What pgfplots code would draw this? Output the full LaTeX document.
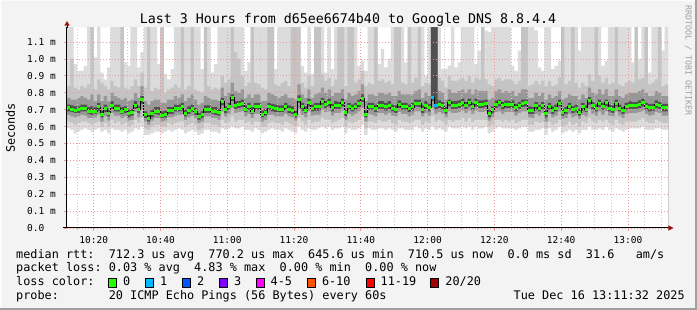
\documentclass[border=0pt]{standalone}
\usepackage{fontspec}
\setmainfont{DejaVu Sans Mono}
\usepackage{pgfplots}
\usepackage{pgfplotstable}
\pgfplotsset{compat=1.18}
\frenchspacing
\definecolor{canvasbg}{HTML}{F3F3F3}
\definecolor{framedark}{HTML}{A0A0A0}
\definecolor{Lone}{HTML}{DCDCDC}
\definecolor{Ltwo}{HTML}{C4C4C4}
\definecolor{Lthree}{HTML}{989898}
\definecolor{Lfour}{HTML}{505050}
\definecolor{lzero}{HTML}{26FF00}
\definecolor{lone}{HTML}{00B8FF}
\definecolor{ltwo}{HTML}{0059FF}
\definecolor{lthree}{HTML}{7E00FF}
\definecolor{lfour}{HTML}{FF00FF}
\definecolor{lsix}{HTML}{FF5500}
\definecolor{leleven}{HTML}{FF0000}
\definecolor{ltwenty}{HTML}{A10000}
\definecolor{mgrid}{HTML}{F09A9A}
\definecolor{ngrid}{HTML}{C8C8C8}
\definecolor{arrowred}{HTML}{9E1010}

\pgfplotstableread{
t m lo l2 l3 l4 h4 h3 h2 h1
0 71.2 59 63 67 69 73 77 84 119
1 70.4 58 62 66 68.5 72.5 76 100 119
2 69.8 56 61 65.5 68 72 76 83 97
3 70.0 57 62 66 68 72 77 82 93
4 70.8 58 63 67 69 73 78 84 93
5 70.8 59 63 66.5 69 73 77 83 96
6 69.2 58 62 65 67.5 71.5 76 85 119
7 69.2 57 61 65 67 72 79 119 119
8 69.2 58 62 65.5 67.5 71.5 75 82 101
9 71.6 59 63 67 69.5 74 79 88 119
10 67.2 57 60 63 65.5 69.5 75 86 92
11 70.6 58 62 66 68.5 73 78 84 88
12 67.8 56 60 63.5 66 70 75 82 95
13 72.7 59 64 68 70.5 75 80 87 119
14 70.8 58 62 66.5 69 73 78 84 119
15 70.8 58 63 66.5 69 73 77 83 119
16 69.2 57 61 65 67.5 71.5 76 119 119
17 70.0 58 62 66 68 72 77 83 98
18 67.6 56 60 63.5 65.5 70 75 82 96
19 68.2 57 61 64 66.5 70.5 76 84 119
20 72.7 59 64 68.5 70.5 75 80 88 119
21 70.0 58 62 65.5 68 72 77 84 95
22 75.9 60 65 70 73.5 78 84 92 104
23 66.9 55 59 63 65 69 75 83 119
24 64.7 55 58 61 63 67 73 119 119
25 67.6 56 60 63.5 65.5 70 75 81 119
26 69.2 57 61 65 67.5 71.5 76 83 119
27 69.2 57 61 65 67 71.5 76 82 97
28 66.7 56 60 63 65 69 74 119 119
29 67.2 57 60 63.5 65.5 69.5 74 80 91
30 69.4 58 62 65.5 67.5 71.5 76 82 88
31 69.4 57 61 65.5 67.5 71.5 76 83 94
32 70.8 58 62 66.5 69 73 78 85 119
33 70.8 59 63 67 69 73 77 83 119
34 71.6 58 63 67 69.5 74 79 119 119
35 67.8 56 60 64 66 70 75 82 119
36 69.6 57 61 65.5 67.5 72 77 84 119
37 70.8 58 62 66.5 69 73 79 119 119
38 69.0 57 61 65 67 71 76 82 119
39 65.7 55 58 62 64 68 73 81 119
40 66.9 56 59 63 65 69 74 80 94
41 70.2 58 62 66 68 72.5 78 119 119
42 70.2 58 62 66 68 72.5 77 84 119
43 69.2 57 61 65 67.5 71.5 76 82 92
44 69.2 57 61 65 67 71.5 76 83 97
45 68.2 56 60 64 66.5 70.5 75 82 119
46 74.7 59 64 69 72.5 77 83 90 119
47 70.0 58 62 66 68 72 78 86 119
48 71.8 59 63 67.5 70 74 80 88 119
49 77.0 60 66 71 75 79 86 119 119
50 72.5 59 63 68 70.5 75 81 104 119
51 72.9 59 64 68.5 71 75 80 100 119
52 73.7 60 64 69 71.5 76 82 90 119
53 70.4 58 62 66 68.5 72.5 77 84 93
54 71.8 58 63 67.5 70 74 79 86 98
55 69.2 57 61 65 67.5 71.5 77 119 119
56 72.0 59 63 67.5 70 74 79 86 119
57 72.0 58 63 67.5 70 74 79 85 119
58 67.2 56 60 63 65.5 69.5 75 83 119
59 68.2 57 60 64 66.5 70.5 75 82 119
60 71.8 58 62 67 70 74 80 119 119
61 71.2 59 63 67 69 73.5 79 119 119
62 70.6 58 62 66 68.5 73 78 85 94
63 70.4 58 62 66 68.5 72.5 77 84 119
64 70.4 57 61 66 68.5 72.5 78 86 119
65 72.0 59 63 67.5 70 74 79 87 119
66 70.2 58 62 66 68 72.5 77 84 119
67 69.6 57 61 65.5 67.5 72 77 119 119
68 67.4 56 60 63.5 65.5 69.5 76 119 119
69 76.3 60 65 70.5 74 78.5 85 119 119
70 71.6 58 63 67 69.5 74 79 86 96
71 69.8 57 61 65.5 68 72 77 83 92
72 74.3 59 64 69 72 76.5 82 90 119
73 70.8 58 62 66.5 69 73 77 84 91
74 71.6 58 63 67 69.5 74 79 119 119
75 71.6 59 63 67 69.5 74 80 119 119
76 74.9 60 65 70 73 77 83 91 119
77 73.1 59 64 68.5 71 75 80 87 92
78 74.3 60 64 69 72 76.5 82 89 119
79 71.2 58 62 66.5 69 73.5 78 84 94
80 72.5 59 63 68 70.5 75 80 88 119
81 72.5 59 64 68 70.5 74.5 80 119 119
82 74.3 60 65 69.5 72 76.5 82 119 119
83 68.2 56 60 64 66 70.5 76 84 119
84 72.0 59 63 67.5 70 74 80 119 119
85 70.8 58 62 66.5 69 73 78 119 119
86 72.0 58 63 67.5 70 74 79 86 119
87 73.7 59 64 69 71.5 76 81 88 96
88 76.7 61 66 71 74.5 79 85 93 99
89 67.2 55 59 63 65.5 69.5 75 84 93
90 72.0 59 63 67.5 70 74 79 86 119
91 71.8 58 63 67 70 74 79 85 119
92 70.6 58 62 66 68.5 73 78 119 119
93 72.7 59 64 68 70.5 75 80 87 97
94 72.7 59 63 68 70.5 75 80 88 106
95 71.6 58 63 67 69.5 74 79 86 95
96 72.7 59 64 68 70.5 75 80 87 100
97 70.8 58 62 66.5 69 73 78 85 119
98 70.2 57 61 66 68 72.5 78 119 119
99 73.1 59 64 68.5 71 75.5 81 119 119
100 72.0 59 63 67.5 70 74 79 86 119
101 72.0 58 63 67.5 70 74 79 85 98
102 70.6 58 62 66 68.5 73 79 119 119
103 71.6 58 63 67 69.5 74 79 86 119
104 73.9 60 64 69 72 76 81 89 119
105 73.7 59 64 69 71.5 76 82 119 119
106 70.2 57 61 66 68 72.5 77 84 119
107 72.5 59 63 68 70.5 75 80 86 90
108 71.2 58 62 66.5 69 73.5 78 85 119
109 77.0 60 66 71 75 119 119 119 119
110 72.2 58 63 67.5 70 119 119 119 119
111 73.1 59 64 68.5 71 75.5 81 89 119
112 72.2 58 63 67.5 70 74.5 80 87 94
113 69.4 57 61 65.5 67.5 71.5 76 83 94
114 74.1 60 64 69 72 76 82 90 96
115 72.7 59 63 68 70.5 75 80 87 119
116 72.7 59 64 68 70.5 75 80 87 95
117 73.1 59 64 68.5 71 75.5 81 88 98
118 74.3 60 65 69.5 72 76.5 82 89 119
119 72.5 59 63 68 70.5 74.5 80 87 119
120 74.3 60 65 69.5 72 76.5 82 90 119
121 72.0 58 63 67.5 70 74 79 86 119
122 74.3 60 64 69.5 72 76.5 82 89 97
123 73.3 59 64 68.5 71 75.5 81 88 105
124 73.3 59 64 68.5 71 75.5 81 119 119
125 73.7 60 64 69 71.5 76 81 88 117
126 67.6 56 60 63.5 65.5 70 76 85 116
127 70.0 57 61 65.5 68 72 77 84 119
128 73.3 59 64 68.5 71 75.5 81 88 119
129 74.1 60 64 69 72 76 82 89 119
130 72.2 59 63 67.5 70 74.5 80 87 119
131 73.1 59 64 68.5 71 75.5 81 88 119
132 73.1 59 63 68.5 71 75 80 88 119
133 73.1 59 64 68.5 71 75.5 81 87 96
134 71.2 58 62 66.5 69 73.5 78 85 93
135 72.5 59 63 68 70.5 74.5 80 87 105
136 73.7 60 64 69 71.5 76 82 119 119
137 74.1 60 64 69 72 76 82 119 119
138 69.6 57 61 65.5 67.5 72 77 84 119
139 69.4 57 61 65 67.5 71.5 77 85 119
140 72.2 58 63 67.5 70 74.5 80 87 117
141 70.8 58 62 66.5 69 73 78 85 95
142 72.4 59 63 68 70.5 74.5 80 87 93
143 67.6 55 59 63 65.5 70 76 84 119
144 72.0 59 63 67.5 70 74 79 87 119
145 69.6 57 61 65.5 67.5 72 77 84 94
146 70.8 58 62 66.5 69 73 78 85 96
147 73.9 60 64 69 72 76 81 89 99
148 68.6 56 60 64.5 66.5 70.5 76 119 119
149 69.4 57 61 65 67.5 71.5 77 85 119
150 72.0 58 63 67.5 70 74 79 87 119
151 70.0 57 61 65.5 68 72 78 119 119
152 70.8 58 62 66.5 69 73 78 86 119
153 68.6 56 60 64.5 66.5 70.5 76 83 105
154 71.6 58 63 67 69.5 74 79 86 119
155 70.4 58 62 66 68.5 72.5 77 84 119
156 75.3 60 65 70.5 73 77.5 83 91 119
157 72.2 58 63 67.5 70 74.5 80 87 119
158 70.8 58 62 66.5 69 73 79 119 119
159 73.7 59 64 69 71.5 76 82 90 119
160 71.8 58 63 67 70 74 79 86 96
161 74.1 60 64 69 72 76 82 89 99
162 70.8 58 62 66.5 69 73 78 85 119
163 70.2 57 61 66 68 72.5 78 86 119
164 73.9 59 64 69 72 76 82 119 119
165 70.8 58 62 66.5 69 73 78 85 119
166 69.4 57 61 65 67.5 71.5 77 84 119
167 72.0 58 63 67.5 70 74 79 86 119
168 72.5 59 63 68 70.5 75 80 87 119
169 72.5 59 63 68 70.5 74.5 80 86 98
170 72.4 59 63 68 70.5 74.5 80 119 119
171 73.1 59 64 68.5 71 75.5 81 88 100
172 74.3 60 65 69.5 72 76.5 82 89 119
173 72.0 58 63 67.5 70 74 80 119 119
174 71.2 58 62 66.5 69 73.5 78 85 92
175 71.4 58 62 67 69.5 73.5 78 86 119
176 73.1 59 64 68.5 71 75.5 81 88 119
177 72.5 59 63 68 70.5 74.5 80 119 119
178 71.2 58 62 66.5 69 73.5 78 84 105
179 71.2 58 62 66.5 69 73.5 78 85 119
180 71.2 58 62 66.5 69 73.5 78 85 119
}\smoke

\newcommand\legfont{\fontsize{11.83}{14}\selectfont}

\begin{document}
\begin{tikzpicture}[x=1pt,y=1pt]
\path[use as bounding box] (0,0) rectangle (697,310);
\fill[canvasbg] (0,0) rectangle (697,310);
\fill[white!70!canvasbg] (0,308.5) rectangle (697,310);
\fill[white!70!canvasbg] (0,0) rectangle (1.5,310);
\fill[framedark] (0,0) rectangle (697,2);
\fill[framedark] (695,0) rectangle (697,310);

\begin{axis}[
  at={(67pt,82pt)}, anchor=south west,
  scale only axis, width=601pt, height=200.6pt,
  xmin=0, xmax=180, ymin=0, ymax=118.7,
  axis on top,
  axis x line=bottom, axis y line=left,
  axis line style={black, line width=1pt, -},
  xtick={8,28,...,168},
  xticklabels={10:20,10:40,11:00,11:20,11:40,12:00,12:20,12:40,13:00},
  minor xtick={3,13,18,23,33,38,43,53,58,63,73,78,83,93,98,103,113,118,123,133,138,143,153,158,163,173,178},
  ytick={0,10,...,110},
  yticklabels={0.0,0.1 m,0.2 m,0.3 m,0.4 m,0.5 m,0.6 m,0.7 m,0.8 m,0.9 m,1.0 m,1.1 m},
  grid=both,
  major grid style={mgrid, line width=0.8pt, dash pattern=on 1.2pt off 1.8pt},
  minor grid style={ngrid, line width=0.8pt, dash pattern=on 1.2pt off 1.8pt},
  tick align=outside,
  major tick length=3pt, minor tick length=2pt,
  major tick style={mgrid, line width=0.8pt},
  minor tick style={ngrid, line width=0.8pt},
  tick label style={font=\fontsize{9.5}{11}\selectfont, inner sep=0pt, text=black},
  xticklabel style={anchor=base, yshift=-12.7pt},
  yticklabel style={anchor=west, xshift=-37pt},
]
% white plot area
\addplot[draw=none, fill=white, const plot, forget plot] table[x=t, y expr=118.7]{\smoke} \closedcycle;
% smoke: painted from the outer layer inwards
\addplot[draw=none, fill=Lone, const plot, forget plot] table[x=t,y=h1]{\smoke} \closedcycle;
\addplot[draw=none, fill=Ltwo, const plot, forget plot] table[x=t,y=h2]{\smoke} \closedcycle;
\addplot[draw=none, fill=Lthree, const plot, forget plot] table[x=t,y=h3]{\smoke} \closedcycle;
\addplot[draw=none, fill=Lfour, const plot, forget plot] table[x=t,y=h4]{\smoke} \closedcycle;
\addplot[draw=none, fill=Lthree, const plot, forget plot] table[x=t,y=l4]{\smoke} \closedcycle;
\addplot[draw=none, fill=Ltwo, const plot, forget plot] table[x=t,y=l3]{\smoke} \closedcycle;
\addplot[draw=none, fill=Lone, const plot, forget plot] table[x=t,y=l2]{\smoke} \closedcycle;
\addplot[draw=none, fill=white, const plot, forget plot] table[x=t,y=lo]{\smoke} \closedcycle;
% median
\addplot[black, line width=0.8pt, const plot, mark=none] table[x=t,y=m]{\smoke};
\addplot[only marks, mark=-, mark size=1.67pt, mark options={line width=3pt, draw=lzero},
  skip coords between index={180}{181}]
  table[x expr=\thisrow{t}+0.5, y=m]{\smoke};
\addplot[only marks, mark=-, mark size=1.67pt, mark options={line width=3pt, draw=lone}]
  coordinates {(109.5,77.0) (110.5,72.2)};
\end{axis}

% axis extensions and arrows
\draw[black, line width=1pt] (63,82) -- (67,82);
\draw[black, line width=1pt] (67,282) -- (67,285);
\fill[arrowred] (64.3,284.3) -- (69.7,284.3) -- (67,289) -- cycle;
\draw[black, line width=1pt] (668,82) -- (669,82);
\fill[arrowred] (668.3,79.3) -- (668.3,84.7) -- (673.5,82) -- cycle;

% title and labels
\node[anchor=base, inner sep=0, font=\fontsize{13.3}{15}\selectfont] at (348,286.7)
  {Last 3 Hours from d65ee6674b40 to Google DNS 8.8.4.4};
\node[rotate=90, inner sep=0, font=\legfont] at (10.5,182) {Seconds};
\node[rotate=-90, anchor=west, inner sep=0, text=gray!75, font=\fontsize{8.3}{10}\selectfont]
  at (688.3,305) {RRDTOOL / TOBI OETIKER};

% legend
\node[anchor=base west, inner sep=0, font=\legfont] at (16,51.7)
  {median rtt:~~712.3~us~avg~~770.2~us~max~~645.6~us~min~~710.5~us~now~~0.0~ms~sd~~31.6~~~am/s};
\node[anchor=base west, inner sep=0, font=\legfont] at (16,38)
  {packet loss:~0.03~\%~avg~~4.83~\%~max~~0.00~\%~min~~0.00~\%~now};
\node[anchor=base west, inner sep=0, font=\legfont] at (16,24) {loss color:};
\foreach \bx/\col/\lab in {108.5/lzero/0, 145.5/lone/1, 182.5/ltwo/2,
    219.3/lthree/3, 256/lfour/{4-5}, 307.3/lsix/{6-10},
    366/leleven/{11-19}, 430.7/ltwenty/{20/20}} {
  \filldraw[fill=\col, draw=black, line width=0.8pt] (\bx,23) rectangle ++(8,8.5);
  \node[anchor=base west, inner sep=0, font=\legfont] at (\bx+14.5,24) {\lab};
}
\node[anchor=base west, inner sep=0, font=\legfont] at (16,10.3)
  {probe:~~~~~~~20~ICMP~Echo~Pings~(56~Bytes)~every~60s};
\node[anchor=base west, inner sep=0, font=\legfont] at (513.5,10.3)
  {Tue~Dec~16~13:11:32~2025};
\end{tikzpicture}
\end{document}
